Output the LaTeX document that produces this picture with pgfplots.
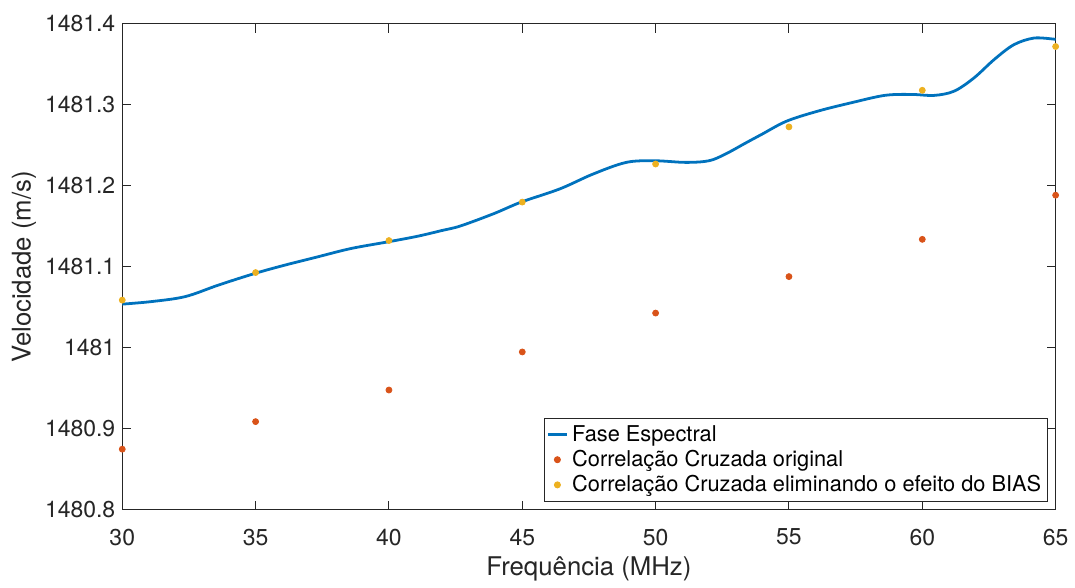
\documentclass[border=0pt]{standalone}
\usepackage{pgfplots}
\pgfplotsset{compat=1.18}
\usepackage{fontspec}
\setmainfont{TeX Gyre Heros}
\definecolor{mblue}{rgb}{0,0.447,0.741}
\definecolor{morange}{rgb}{0.85,0.325,0.098}
\definecolor{myellow}{rgb}{0.929,0.694,0.125}
\definecolor{axgray}{rgb}{0.15,0.15,0.15}
\begin{document}
\begin{tikzpicture}
\begin{axis}[
  name=main,
  scale only axis,
  width=469.5bp, height=244.5bp,
  xmin=30, xmax=65, ymin=1480.8, ymax=1481.4,
  xtick={30,35,40,45,50,55,60,65},
  ytick={1480.8,1480.9,1481,1481.1,1481.2,1481.3,1481.4},
  scaled y ticks=false,
  yticklabel style={/pgf/number format/.cd, fixed, precision=1, 1000 sep={}},
  /pgf/number format/assume math mode=true,
  tick align=inside,
  major tick length=4.5bp,
  axis line style={draw=axgray, line width=0.5pt},
  every tick/.style={draw=axgray, line width=0.5pt},
  tick label style={font=\fontsize{11.6}{13}\selectfont, text=axgray},
  xticklabel style={yshift=-6bp},
  label style={font=\fontsize{13}{15}\selectfont, text=axgray},
  xlabel={Frequência (MHz)},
  ylabel={Velocidade (m/s)},
  xlabel style={at={([yshift=-29.5bp]axis description cs:0.5,0)}, anchor=center},
  ylabel style={at={([xshift=-49.5bp]axis description cs:0,0.5)}, anchor=center},
  legend style={at={(0.9915,0.0164)}, anchor=south east, draw=axgray, line width=0.5pt,
    font=\fontsize{11}{13}\selectfont, cells={anchor=west}, inner xsep=1bp, inner ysep=1.5bp, row sep=-1bp},
]
\addplot[color=mblue, line width=1.4bp, smooth, tension=0.55,
  legend image code/.code={\draw[mblue, line width=1.4bp] (0bp,0bp) -- (9.5bp,0bp);}]
coordinates {
(30,1481.054) (31.13,1481.0573) (32.37,1481.0634) (33.62,1481.0777) (34.98,1481.092)
(36.10,1481.1022) (37.34,1481.1125) (38.58,1481.1227) (39.98,1481.131) (41.07,1481.1378)
(42.00,1481.145) (42.68,1481.1505) (43.93,1481.1657) (44.96,1481.180) (46.41,1481.1963)
(47.66,1481.2147) (48.90,1481.229) (49.97,1481.231) (51.13,1481.229) (52.00,1481.231)
(52.62,1481.2393) (53.37,1481.2528) (53.99,1481.2638) (54.92,1481.280) (56.10,1481.2924)
(57.35,1481.3027) (58.59,1481.3117) (59.58,1481.3129) (60.45,1481.3117) (61.20,1481.317)
(61.94,1481.3333) (62.69,1481.3558) (63.43,1481.3742) (64.18,1481.3824) (64.92,1481.3812)
(65,1481.3805)
};
\addlegendentry{Fase Espectral}
\addplot[only marks, mark=*, mark size=1.5bp, color=morange, mark options={fill=morange, draw=morange},
  legend image code/.code={\fill[morange] (4.75bp,0bp) circle (1.5bp);}]
coordinates {
(30,1480.875) (35,1480.909) (40,1480.948) (45,1480.995) (50,1481.043)
(55,1481.088) (60,1481.134) (65,1481.1885)
};
\addlegendentry{Correlação Cruzada original}
\addplot[only marks, mark=*, mark size=1.5bp, color=myellow, mark options={fill=myellow, draw=myellow},
  legend image code/.code={\fill[myellow] (4.75bp,0bp) circle (1.5bp);}]
coordinates {
(30,1481.059) (35,1481.093) (40,1481.1325) (45,1481.180) (50,1481.227)
(55,1481.2728) (60,1481.318) (65,1481.372)
};
\addlegendentry{Correlação Cruzada eliminando o efeito do BIAS}
\end{axis}
\path (main.south west) ++(-61.5bp,-35.5bp);
\path (main.north east) ++(6.5bp,12bp);
\end{tikzpicture}
\end{document}
